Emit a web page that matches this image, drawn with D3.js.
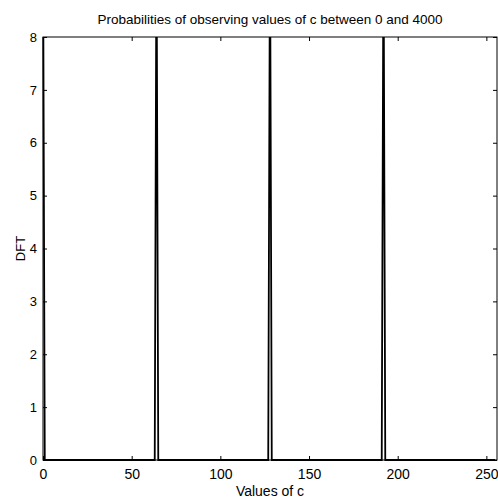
<!DOCTYPE html>
<html lang="en">
<head>
    <meta charset="UTF-8">
    <title>DFT spikes</title>
    <script src="https://d3js.org/d3.v7.min.js"></script>
    <style>
        html, body {
            margin: 0;
            background: #fff;
        }
        text {
            font-family: "Liberation Sans", Arial, sans-serif;
            fill: #000;
        }
    </style>
</head>
<body>
    <div id="vis"></div>
    <script>
        // data: the curve is 0 everywhere except
        // single-sample spikes at c = 0, 64, 128, 192 (they run off the top)
        var cValues   = [0, 1, 63, 64, 65, 127, 128, 129, 191, 192, 193, 255];
        var dftValues = [10, 0, 0, 10, 0, 0, 10, 0, 0, 10, 0, 0];
        var xTicks = [0, 50, 100, 150, 200, 250];
        var yTicks = [0, 1, 2, 3, 4, 5, 6, 7, 8];

        var view_width = 498, view_height = 499;
        var margin = {top: 37, right: 1, bottom: 39, left: 43};
        var width = view_width - margin.left - margin.right;
        var height = view_height - margin.top - margin.bottom;

        var svg = d3.select('#vis')
            .append('svg')
                .attr('width', view_width)
                .attr('height', view_height);

        var g = svg.append('g')
            .attr('transform', 'translate(' + margin.left + ',' + margin.top + ')');

        var x_scale = d3.scaleLinear().domain([0, 256]).range([0, width]);
        var y_scale = d3.scaleLinear().domain([0, 8]).range([height, 0]);

        // clip only the top (spikes run off the axes), let the line sit on the bottom/left border
        g.append('clipPath')
            .attr('id', 'plotclip')
          .append('rect')
            .attr('x', -3)
            .attr('width', width + 3)
            .attr('height', height + 3);

        var points = cValues.map(function(c, i) { return {c: c, v: dftValues[i]}; });

        var line = d3.line()
            .x(function(d) { return x_scale(d.c); })
            .y(function(d) { return y_scale(d.v); });

        g.append('path')
            .datum(points)
            .attr('clip-path', 'url(#plotclip)')
            .attr('fill', 'none')
            .attr('stroke', '#000')
            .attr('stroke-width', 1.8)
            .attr('d', line);

        // box
        g.append('rect')
            .attr('width', width)
            .attr('height', height)
            .attr('fill', 'none')
            .attr('stroke', '#000')
            .attr('stroke-width', 1);

        // matlab style inward ticks on all four sides
        var tickLen = 4;
        var x_axis = d3.axisBottom(x_scale).tickValues(xTicks).tickSize(-tickLen).tickPadding(9);
        var x_axis_top = d3.axisTop(x_scale).tickValues(xTicks).tickSize(-tickLen).tickFormat('');
        var y_axis = d3.axisLeft(y_scale).tickValues(yTicks).tickSize(-tickLen).tickPadding(6);
        var y_axis_right = d3.axisRight(y_scale).tickValues(yTicks).tickSize(-tickLen).tickFormat('');

        g.append('g').attr('class', 'x axis')
            .attr('transform', 'translate(0,' + height + ')')
            .call(x_axis);
        g.append('g').attr('class', 'x axis top').call(x_axis_top);
        g.append('g').attr('class', 'y axis').call(y_axis);
        g.append('g').attr('class', 'y axis right')
            .attr('transform', 'translate(' + width + ',0)')
            .call(y_axis_right);

        g.selectAll('.axis .domain').remove();
        g.selectAll('.axis line').attr('stroke', '#000');
        g.selectAll('.axis text')
            .style('font-family', '"Liberation Sans", Arial, sans-serif')
            .style('font-size', '14px')
            .attr('fill', '#000');
        g.selectAll('.y.axis text').style('font-size', '13px');

        svg.append('text')
            .attr('x', margin.left + width / 2)
            .attr('y', 24)
            .attr('text-anchor', 'middle')
            .style('font-size', '13.5px')
            .text('Probabilities of observing values of c between 0 and 4000');

        svg.append('text')
            .attr('x', margin.left + width / 2)
            .attr('y', 496)
            .attr('text-anchor', 'middle')
            .style('font-size', '14px')
            .text('Values of c');

        svg.append('text')
            .attr('transform', 'translate(25,' + (margin.top + height / 2) + ')rotate(-90)')
            .attr('text-anchor', 'middle')
            .style('font-size', '13px')
            .text('DFT');
    </script>
</body>
</html>
